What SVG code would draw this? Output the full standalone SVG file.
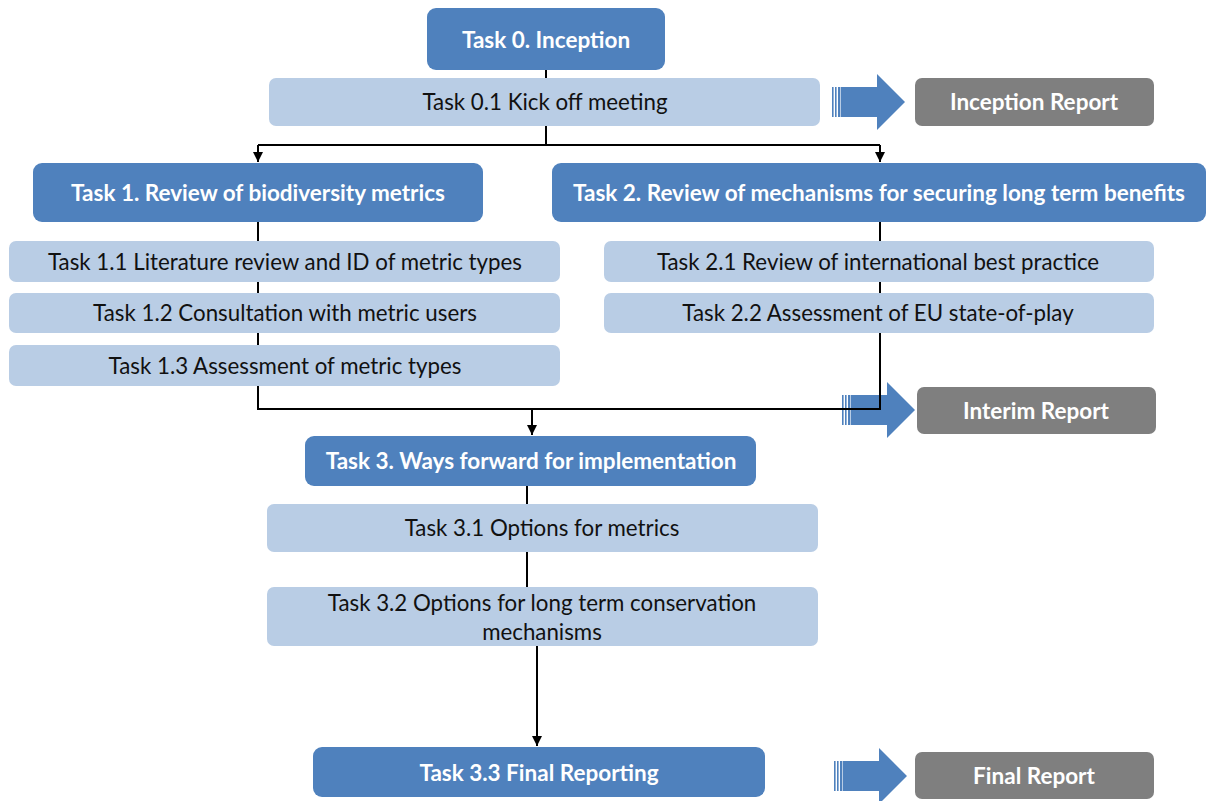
<svg xmlns="http://www.w3.org/2000/svg" width="1213" height="801" viewBox="0 0 1213 801">
<style>
.dark{fill:#4f81bd}
.light{fill:#b9cde5}
.gray{fill:#7f7f7f}
.ba{fill:#4f81bd}
.tw{font-family:Lato,"Liberation Sans",sans-serif;font-weight:bold;fill:#fff;font-size:22.5px;text-anchor:middle}
.tb{font-family:Lato,"Liberation Sans",sans-serif;fill:#111;font-size:22.3px;text-anchor:middle}
.con{stroke:#000;stroke-width:2;fill:none}
</style>
<defs>
<marker id="ah2" viewBox="0 0 10 10" refX="10" refY="5" markerWidth="10" markerHeight="12" orient="auto" markerUnits="userSpaceOnUse">
<path d="M0,0 L10,5 L0,10 z" fill="#000"/>
</marker>
<g id="blockArrow">
<rect x="0" y="-15" width="1.6" height="30" class="ba"/>
<rect x="3" y="-15" width="1.6" height="30" class="ba"/>
<rect x="6" y="-15" width="2.4" height="30" class="ba"/>
<path d="M9,-15 H45 V-28 L73,0 L45,28 V15 H9 z" class="ba"/>
</g>
</defs>
<g id="block-arrows">
<use href="#blockArrow" x="832" y="102"/>
<use href="#blockArrow" x="842" y="410"/>
<use href="#blockArrow" x="834" y="776"/>
</g>
<g id="connectors">
<path class="con" d="M546,70 V145"/>
<path class="con" d="M258,145 H880"/>
<path class="con" d="M258,145 V162" marker-end="url(#ah2)"/>
<path class="con" d="M880,145 V162" marker-end="url(#ah2)"/>
<path class="con" d="M258,222 V409 H880 V222"/>
<path class="con" d="M532,409 V435" marker-end="url(#ah2)"/>
<path class="con" d="M527,486 V587"/>
<path class="con" d="M537,646 V746" marker-end="url(#ah2)"/>
</g>
<g id="task0"><rect class="dark" x="427" y="8" width="238" height="62" rx="9"/><text class="tw" x="546" y="48">Task 0. Inception</text></g>
<g id="task01"><rect class="light" x="269" y="78" width="551" height="48" rx="7"/><text class="tb" x="545" y="110">Task 0.1 Kick off meeting</text></g>
<g id="inception-report"><rect class="gray" x="915" y="78" width="239" height="48" rx="7"/><text class="tw" x="1034" y="110">Inception Report</text></g>
<g id="task1"><rect class="dark" x="33" y="163" width="450" height="59" rx="9"/><text class="tw" x="258" y="201">Task 1. Review of biodiversity metrics</text></g>
<g id="task2"><rect class="dark" x="552" y="163" width="654" height="59" rx="9"/><text class="tw" x="879" y="201">Task 2. Review of mechanisms for securing long term benefits</text></g>
<g id="task11"><rect class="light" x="9" y="241" width="551" height="41" rx="7"/><text class="tb" x="285" y="270">Task 1.1 Literature review and ID of metric types</text></g>
<g id="task12"><rect class="light" x="9" y="293" width="551" height="40" rx="7"/><text class="tb" x="285" y="321">Task 1.2 Consultation with metric users</text></g>
<g id="task13"><rect class="light" x="9" y="345" width="551" height="41" rx="7"/><text class="tb" x="285" y="374">Task 1.3 Assessment of metric types</text></g>
<g id="task21"><rect class="light" x="604" y="241" width="550" height="41" rx="7"/><text class="tb" x="878" y="270">Task 2.1 Review of international best practice</text></g>
<g id="task22"><rect class="light" x="604" y="293" width="550" height="40" rx="7"/><text class="tb" x="878" y="321">Task 2.2 Assessment of EU state-of-play</text></g>
<g id="interim-report"><rect class="gray" x="917" y="387" width="239" height="47" rx="7"/><text class="tw" x="1036" y="419">Interim Report</text></g>
<g id="task3"><rect class="dark" x="305" y="436" width="451" height="50" rx="9"/><text class="tw" x="531" y="469">Task 3. Ways forward for implementation</text></g>
<g id="task31"><rect class="light" x="267" y="504" width="551" height="48" rx="7"/><text class="tb" x="542" y="536">Task 3.1 Options for metrics</text></g>
<g id="task32"><rect class="light" x="267" y="587" width="551" height="59" rx="7"/><text class="tb" x="542" y="611">Task 3.2 Options for long term conservation</text><text class="tb" x="542" y="640">mechanisms</text></g>
<g id="task33"><rect class="dark" x="313" y="747" width="452" height="50" rx="9"/><text class="tw" x="539" y="781">Task 3.3 Final Reporting</text></g>
<g id="final-report"><rect class="gray" x="915" y="752" width="239" height="47" rx="7"/><text class="tw" x="1034" y="784">Final Report</text></g>
</svg>
